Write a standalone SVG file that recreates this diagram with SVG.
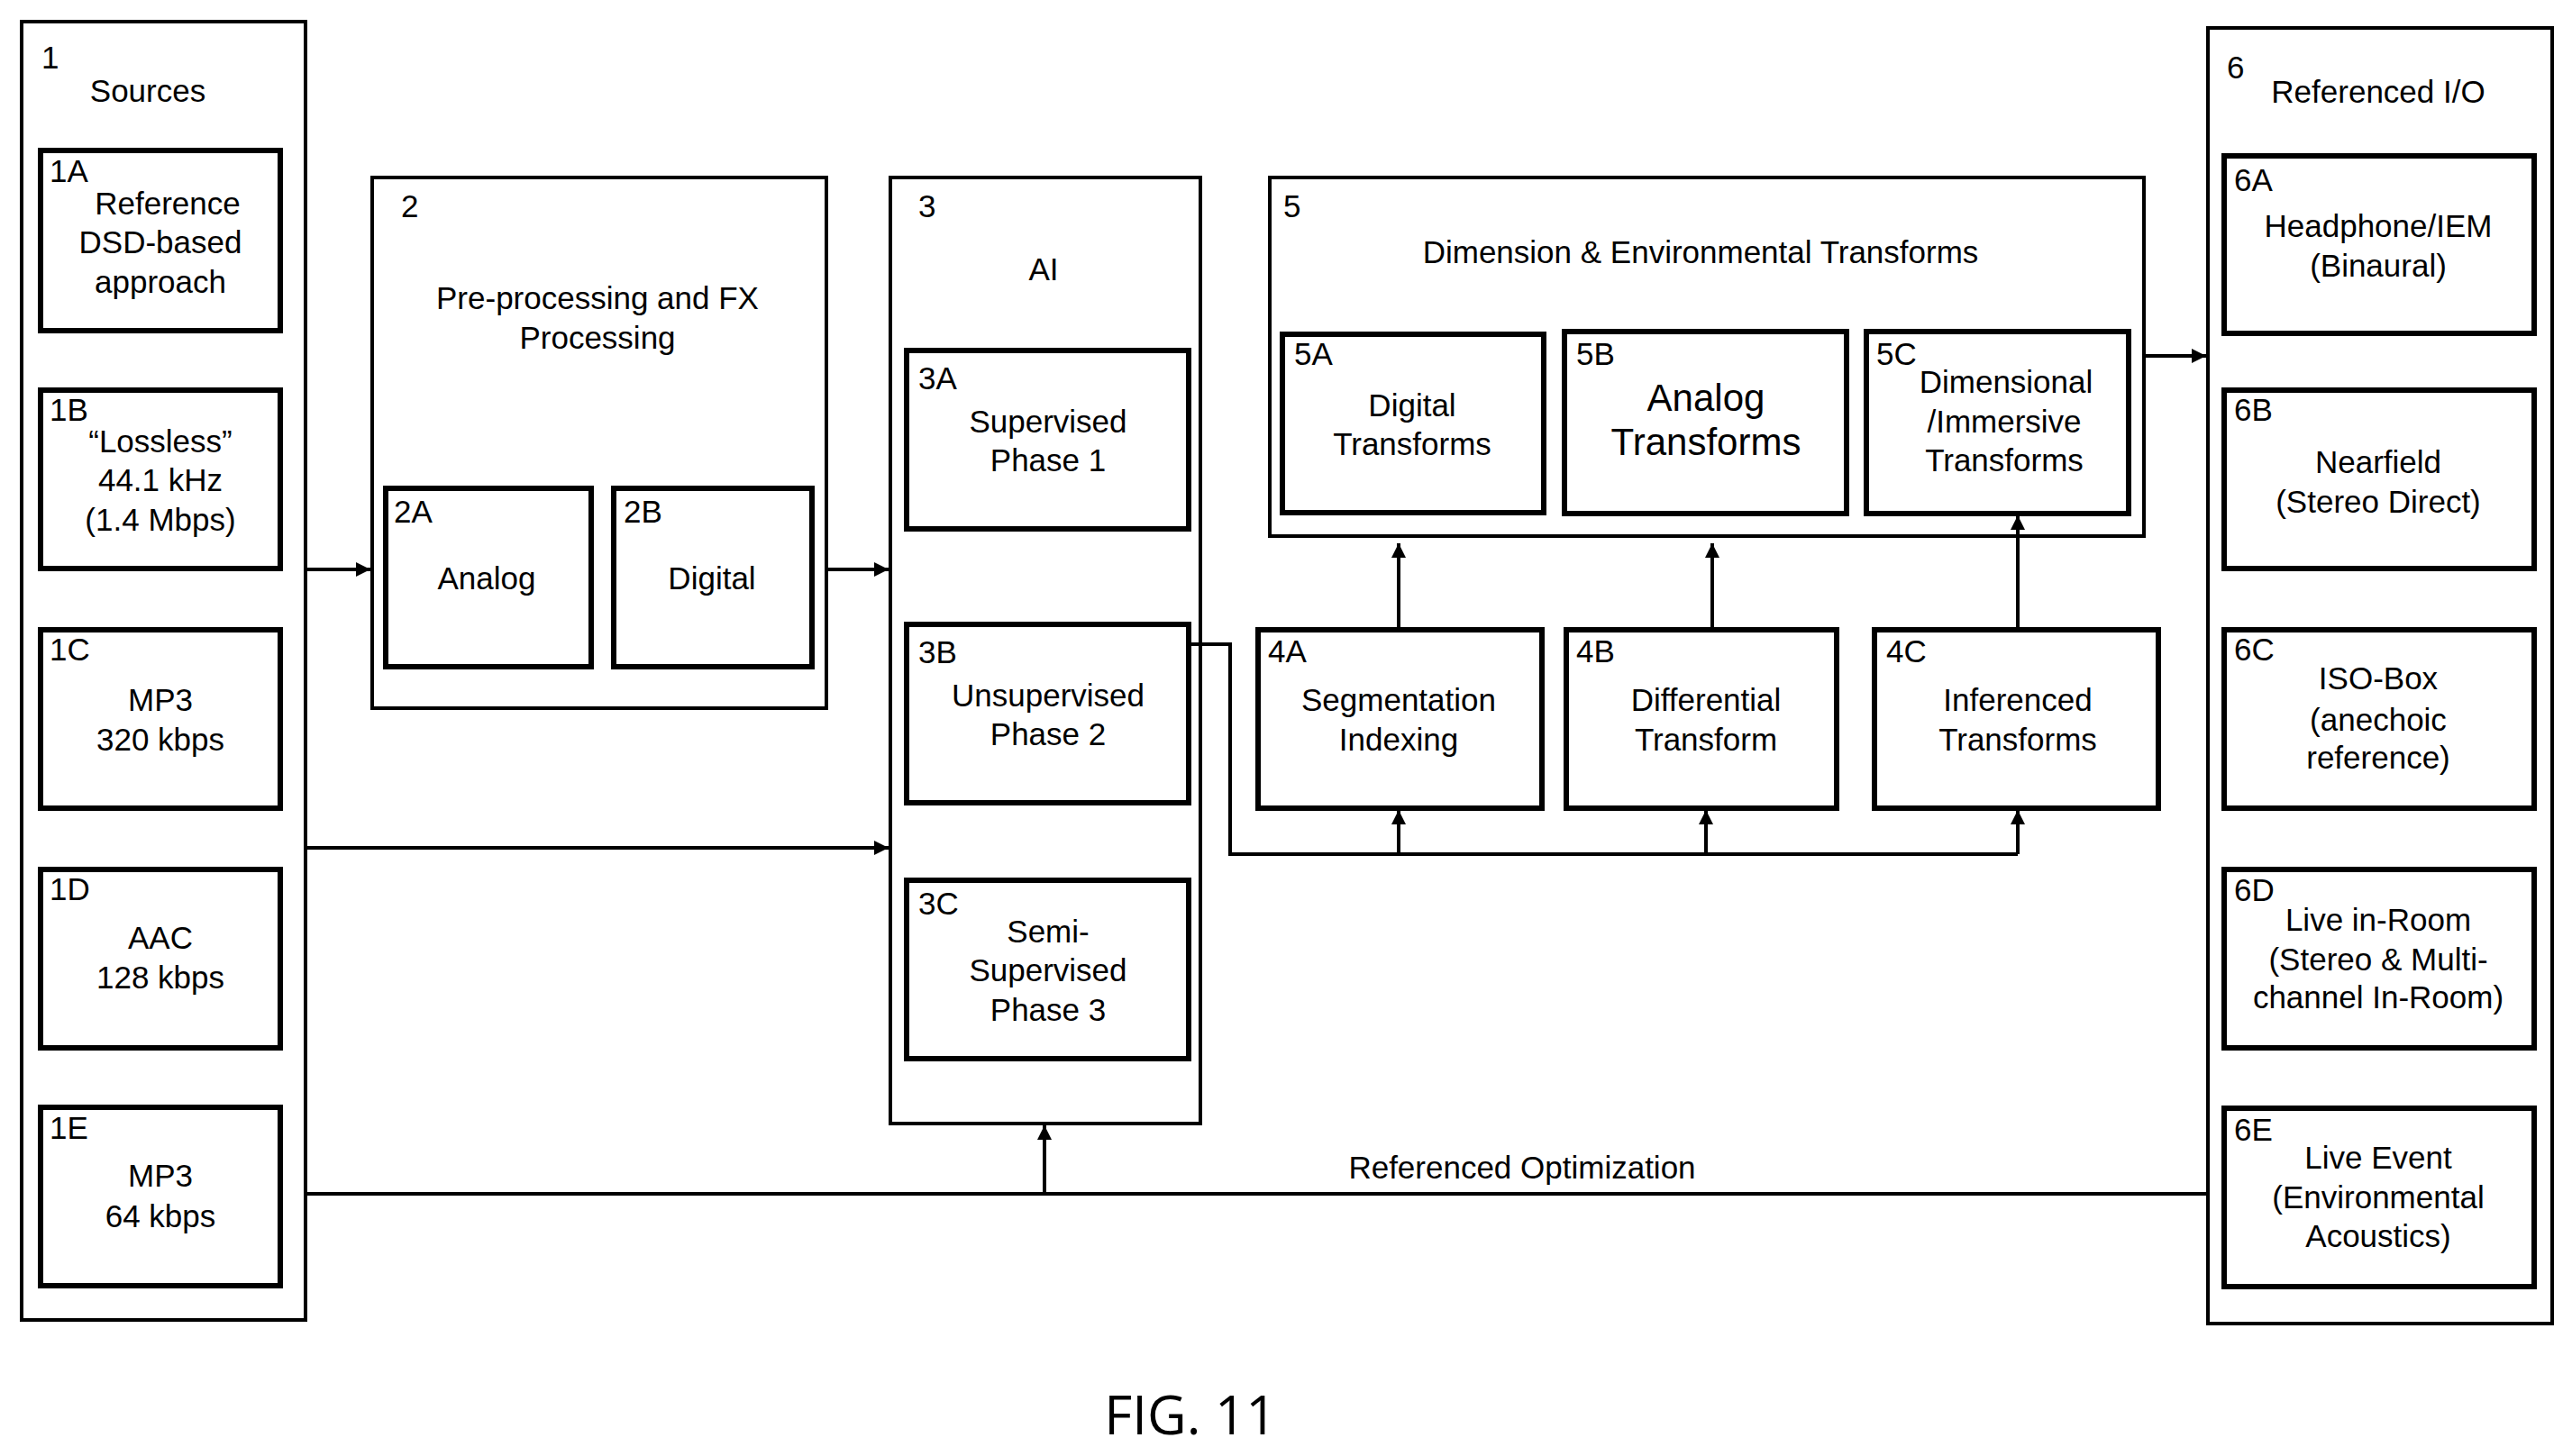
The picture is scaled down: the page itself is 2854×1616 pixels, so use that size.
<svg xmlns="http://www.w3.org/2000/svg" width="2854" height="1616" viewBox="0 0 2854 1616">
<defs>
<style>
text{font-family:"Liberation Sans",Arial,sans-serif;font-size:35px;fill:#000}
.c{text-anchor:middle}
.big{font-size:42px}
.o{fill:#fff;stroke:#000;stroke-width:4}
.i{fill:#fff;stroke:#000;stroke-width:6}
.ln{fill:none;stroke:#000;stroke-width:4}
.fig{font-family:"Open Sans","Liberation Sans",sans-serif;font-size:60px}
</style>
<marker id="ah" viewBox="0 0 10 10" refX="10" refY="5" markerWidth="4" markerHeight="4" orient="auto-start-reverse"><path d="M0,0 L10,5 L0,10 z" fill="#000"/></marker>
</defs>
<rect width="2854" height="1616" fill="#fff"/>
<g id="n1"><rect class="o" x="24" y="24" width="315" height="1441"/><text x="46" y="76">1</text><text class="c" x="164" y="113">Sources</text></g>
<g id="n1A"><rect class="i" x="45" y="167" width="266" height="200"/><text x="55" y="202">1A</text><text class="c" x="186" y="238">Reference</text><text class="c" x="178" y="281">DSD-based</text><text class="c" x="178" y="325">approach</text></g>
<g id="n1B"><rect class="i" x="45" y="433" width="266" height="198"/><text x="55" y="467">1B</text><text class="c" x="178" y="502">“Lossless”</text><text class="c" x="178" y="545">44.1 kHz</text><text class="c" x="178" y="589">(1.4 Mbps)</text></g>
<g id="n1C"><rect class="i" x="45" y="699" width="266" height="198"/><text x="55" y="733">1C</text><text class="c" x="178" y="789">MP3</text><text class="c" x="178" y="833">320 kbps</text></g>
<g id="n1D"><rect class="i" x="45" y="965" width="266" height="198"/><text x="55" y="999">1D</text><text class="c" x="178" y="1053">AAC</text><text class="c" x="178" y="1097">128 kbps</text></g>
<g id="n1E"><rect class="i" x="45" y="1229" width="266" height="198"/><text x="55" y="1264">1E</text><text class="c" x="178" y="1317">MP3</text><text class="c" x="178" y="1362">64 kbps</text></g>
<g id="n2"><rect class="o" x="413" y="197" width="504" height="589"/><text x="445" y="241">2</text><text class="c" x="663" y="343">Pre-processing and FX</text><text class="c" x="663" y="387">Processing</text></g>
<g id="n2A"><rect class="i" x="428" y="542" width="228" height="198"/><text x="437" y="580">2A</text><text class="c" x="540" y="654">Analog</text></g>
<g id="n2B"><rect class="i" x="681" y="542" width="220" height="198"/><text x="692" y="580">2B</text><text class="c" x="790" y="654">Digital</text></g>
<g id="n3"><rect class="o" x="988" y="197" width="344" height="1050"/><text x="1019" y="241">3</text><text class="c" x="1158" y="311">AI</text></g>
<g id="n3A"><rect class="i" x="1006" y="389" width="313" height="198"/><text x="1019" y="432">3A</text><text class="c" x="1163" y="480">Supervised</text><text class="c" x="1163" y="523">Phase 1</text></g>
<g id="n3B"><rect class="i" x="1006" y="693" width="313" height="198"/><text x="1019" y="736">3B</text><text class="c" x="1163" y="784">Unsupervised</text><text class="c" x="1163" y="827">Phase 2</text></g>
<g id="n3C"><rect class="i" x="1006" y="977" width="313" height="198"/><text x="1019" y="1015">3C</text><text class="c" x="1163" y="1046">Semi-</text><text class="c" x="1163" y="1089">Supervised</text><text class="c" x="1163" y="1133">Phase 3</text></g>
<g id="n5"><rect class="o" x="1409" y="197" width="970" height="398"/><text x="1424" y="241">5</text><text class="c" x="1887" y="292">Dimension &amp; Environmental Transforms</text></g>
<g id="n5A"><rect class="i" x="1423" y="371" width="290" height="198"/><text x="1436" y="405">5A</text><text class="c" x="1567" y="462">Digital</text><text class="c" x="1567" y="505">Transforms</text></g>
<g id="n5B"><rect class="i" x="1736" y="368" width="313" height="202"/><text x="1749" y="405">5B</text><text class="c big" x="1893" y="456">Analog</text><text class="c big" x="1893" y="505">Transforms</text></g>
<g id="n5C"><rect class="i" x="2071" y="368" width="291" height="202"/><text x="2082" y="405">5C</text><text class="c" x="2226" y="436">Dimensional</text><text class="c" x="2224" y="480">/Immersive</text><text class="c" x="2224" y="523">Transforms</text></g>
<g id="n4A"><rect class="i" x="1396" y="699" width="315" height="198"/><text x="1407" y="735">4A</text><text class="c" x="1552" y="789">Segmentation</text><text class="c" x="1552" y="833">Indexing</text></g>
<g id="n4B"><rect class="i" x="1738" y="699" width="300" height="198"/><text x="1749" y="735">4B</text><text class="c" x="1893" y="789">Differential</text><text class="c" x="1893" y="833">Transform</text></g>
<g id="n4C"><rect class="i" x="2080" y="699" width="315" height="198"/><text x="2093" y="735">4C</text><text class="c" x="2239" y="789">Inferenced</text><text class="c" x="2239" y="833">Transforms</text></g>
<g id="n6"><rect class="o" x="2450" y="31" width="382" height="1438"/><text x="2471" y="87">6</text><text class="c" x="2639" y="114">Referenced I/O</text></g>
<g id="n6A"><rect class="i" x="2468" y="173" width="344" height="197"/><text x="2479" y="212">6A</text><text class="c" x="2639" y="263">Headphone/IEM</text><text class="c" x="2639" y="307">(Binaural)</text></g>
<g id="n6B"><rect class="i" x="2468" y="433" width="344" height="198"/><text x="2479" y="467">6B</text><text class="c" x="2639" y="525">Nearfield</text><text class="c" x="2639" y="569">(Stereo Direct)</text></g>
<g id="n6C"><rect class="i" x="2468" y="699" width="344" height="198"/><text x="2479" y="733">6C</text><text class="c" x="2639" y="765">ISO-Box</text><text class="c" x="2639" y="811">(anechoic</text><text class="c" x="2639" y="853">reference)</text></g>
<g id="n6D"><rect class="i" x="2468" y="965" width="344" height="198"/><text x="2479" y="1000">6D</text><text class="c" x="2639" y="1033">Live in-Room</text><text class="c" x="2639" y="1077">(Stereo &amp; Multi-</text><text class="c" x="2639" y="1119">channel In-Room)</text></g>
<g id="n6E"><rect class="i" x="2468" y="1230" width="344" height="198"/><text x="2479" y="1266">6E</text><text class="c" x="2639" y="1297">Live Event</text><text class="c" x="2639" y="1341">(Environmental</text><text class="c" x="2639" y="1384">Acoustics)</text></g>
<g id="connectors">
<line class="ln" x1="339" y1="632" x2="411" y2="632" marker-end="url(#ah)"/>
<line class="ln" x1="917" y1="632" x2="986" y2="632" marker-end="url(#ah)"/>
<line class="ln" x1="339" y1="941" x2="986" y2="941" marker-end="url(#ah)"/>
<line class="ln" x1="2379" y1="395" x2="2448" y2="395" marker-end="url(#ah)"/>
<polyline class="ln" points="1319,715 1365,715 1365,948 2239,948"/>
<line class="ln" x1="1552" y1="948" x2="1552" y2="899" marker-end="url(#ah)"/>
<line class="ln" x1="1893" y1="948" x2="1893" y2="899" marker-end="url(#ah)"/>
<line class="ln" x1="2239" y1="948" x2="2239" y2="899" marker-end="url(#ah)"/>
<line class="ln" x1="1552" y1="699" x2="1552" y2="603" marker-end="url(#ah)"/>
<line class="ln" x1="1900" y1="699" x2="1900" y2="603" marker-end="url(#ah)"/>
<line class="ln" x1="2239" y1="699" x2="2239" y2="572" marker-end="url(#ah)"/>
<line class="ln" x1="339" y1="1325" x2="2450" y2="1325"/>
<line class="ln" x1="1159" y1="1325" x2="1159" y2="1249" marker-end="url(#ah)"/>
<text class="c" x="1689" y="1308">Referenced Optimization</text>
</g>
<text class="c fig" x="1321" y="1592">FIG. 11</text>
</svg>
